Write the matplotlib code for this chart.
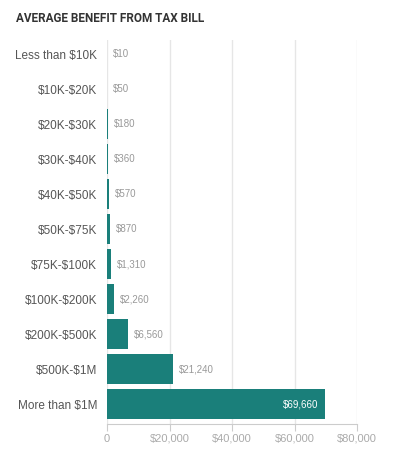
import matplotlib
matplotlib.use("Agg")
import matplotlib.pyplot as plt
from matplotlib.ticker import FuncFormatter

plt.rcParams["text.parse_math"] = False

categories = ["Less than $10K", "$10K-$20K", "$20K-$30K", "$30K-$40K", "$40K-$50K",
              "$50K-$75K", "$75K-$100K", "$100K-$200K", "$200K-$500K", "$500K-$1M",
              "More than $1M"]
values = [10, 50, 180, 360, 570, 870, 1310, 2260, 6560, 21240, 69660]
ticks = [0, 20000, 40000, 60000, 80000]

BAR = "#1a7f7a"
fig = plt.figure(figsize=(3.93, 4.54), dpi=100)
ax = fig.add_axes([107/393, 1-424/454, 250/393, 384/454])

y = list(range(len(categories)))
ax.barh(y, values, height=0.86, color=BAR, zorder=3)
ax.set_ylim(len(categories) - 0.43, -0.4)
ax.set_xlim(0, 80000)
ax.set_yticks(y)
ax.set_yticklabels(categories, fontsize=8.5, color="#555555", family="Liberation Sans")
ax.tick_params(axis="y", length=0, pad=7)
ax.set_xticks(ticks)
ax.xaxis.set_major_formatter(FuncFormatter(lambda v, p: "0" if v == 0 else f"${v:,.0f}"))
for lbl in ax.get_xticklabels():
    lbl.set_family("Liberation Sans")
ax.tick_params(axis="x", length=5, color="#cccccc", labelsize=8, labelcolor="#aaaaaa", pad=2)
ax.grid(axis="x", color="#e6e6e6", linewidth=1, zorder=0)
for s in ["top", "right", "left"]:
    ax.spines[s].set_visible(False)
ax.spines["bottom"].set_color("#cccccc")

px = 80000 / 250
for i, v in enumerate(values):
    if v > 50000:
        ax.text(v - 6 * px, i, f"${v:,}", va="center", ha="right", fontsize=7,
                color="white", family="Liberation Sans", zorder=4)
    else:
        ax.text(v + 6 * px, i, f"${v:,}", va="center", ha="left", fontsize=7,
                color="#999999", family="Liberation Sans", zorder=4)

fig.text(16/393, 1-18/454, "AVERAGE BENEFIT FROM TAX BILL", fontsize=8.5, fontweight="bold",
         color="#333333", family="Roboto", va="center", ha="left")

fig.savefig("out.png", dpi=100)
